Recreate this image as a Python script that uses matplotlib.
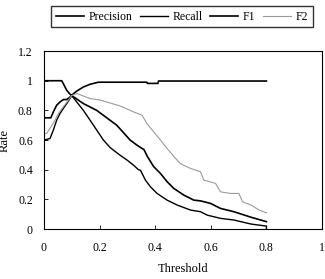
import matplotlib.pyplot as plt

# values
thr_p = [0, 0.064, 0.07, 0.082, 0.094, 0.10, 0.118, 0.142, 0.166, 0.196, 0.25, 0.30, 0.37, 0.372, 0.41, 0.412, 0.6, 0.8]
prec = [1.0, 1.0, 0.98, 0.936, 0.909, 0.902, 0.93, 0.958, 0.976, 0.99, 0.99, 0.99, 0.99, 0.982, 0.982, 0.998, 0.998, 0.998]

thr_r = [0, 0.022, 0.034, 0.046, 0.058, 0.07, 0.082, 0.094, 0.10, 0.118, 0.142, 0.166, 0.19, 0.214,
         0.238, 0.25, 0.274, 0.299, 0.322, 0.34, 0.347, 0.365, 0.383, 0.407, 0.443, 0.479, 0.527,
         0.563, 0.587, 0.611, 0.635, 0.683, 0.744, 0.8, 0.8]
rec = [0.6, 0.61, 0.667, 0.734, 0.779, 0.813, 0.846, 0.88, 0.90, 0.857, 0.80, 0.734, 0.667, 0.60,
       0.55, 0.532, 0.498, 0.465, 0.431, 0.40, 0.397, 0.33, 0.285, 0.24, 0.195, 0.162, 0.128,
       0.117, 0.094, 0.083, 0.072, 0.061, 0.034, 0.02, 0.0]

thr_f1 = [0, 0.025, 0.034, 0.046, 0.058, 0.07, 0.082, 0.094, 0.10, 0.142, 0.19, 0.226, 0.262, 0.31,
          0.335, 0.36, 0.372, 0.385, 0.395, 0.419, 0.443, 0.467, 0.503, 0.539, 0.563, 0.599, 0.635,
          0.683, 0.744, 0.8]
f1 = [0.75, 0.75, 0.79, 0.835, 0.857, 0.873, 0.873, 0.89, 0.90, 0.846, 0.80, 0.75, 0.70, 0.60,
      0.565, 0.535, 0.49, 0.45, 0.42, 0.375, 0.319, 0.274, 0.229, 0.195, 0.19, 0.173, 0.139,
      0.117, 0.08, 0.05]

thr_f2 = [0, 0.01, 0.022, 0.04, 0.052, 0.07, 0.088, 0.10, 0.118, 0.166, 0.202, 0.238, 0.274, 0.322,
          0.353, 0.37, 0.395, 0.419, 0.443, 0.467, 0.491, 0.527, 0.563, 0.575, 0.617, 0.635, 0.671,
          0.701, 0.714, 0.744, 0.774, 0.8]
f2 = [0.64, 0.645, 0.678, 0.734, 0.779, 0.824, 0.869, 0.90, 0.914, 0.88, 0.87, 0.85, 0.83, 0.79,
      0.768, 0.712, 0.655, 0.60, 0.543, 0.49, 0.44, 0.409, 0.386, 0.33, 0.308, 0.251, 0.24,
      0.24, 0.184, 0.162, 0.128, 0.11]

plt.rcParams['font.family'] = 'Liberation Serif'

fig = plt.figure(figsize=(3.25, 2.79), dpi=100)
ax = fig.add_axes([0.135, 0.179, 0.856, 0.638])

ax.plot(thr_p, prec, color='black', lw=1.2, label='Precision')
ax.plot(thr_r, rec, color='black', lw=1.0, label='Recall')
ax.plot(thr_f1, f1, color='black', lw=1.2, label='F1')
ax.plot(thr_f2, f2, color='#9a9a9a', lw=0.8, label='F2')

ax.set_xlim(0, 1)
ax.set_ylim(0, 1.2)
ax.set_xticks([0, 0.2, 0.4, 0.6, 0.8, 1])
ax.set_xticklabels(['0', '0.2', '0.4', '0.6', '0.8', '1'])
ax.set_yticks([0, 0.2, 0.4, 0.6, 0.8, 1, 1.2])
ax.set_yticklabels(['0', '0.2', '0.4', '0.6', '0.8', '1', '1.2'])
ax.tick_params(direction='in', length=3, width=0.6, labelsize=8.5)
ax.tick_params(axis='x', pad=9)
ax.tick_params(axis='y', pad=8)
for s in ax.spines.values():
    s.set_linewidth(0.8)

ax.set_xlabel('Threshold', fontsize=9, labelpad=7)
ax.set_ylabel('Rate', fontsize=9)
ax.yaxis.set_label_coords(-0.12, 0.5)

fig.legend(loc='center', bbox_to_anchor=(0.56, 0.94), ncol=4, fontsize=8.5,
           frameon=True, fancybox=False, edgecolor='black', handlelength=2.4,
           handletextpad=0.4, columnspacing=0.6, borderpad=0.4)

fig.savefig('out.png', dpi=100)
